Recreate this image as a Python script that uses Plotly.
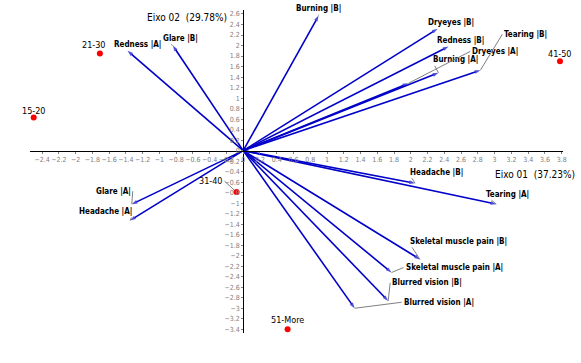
import plotly.graph_objects as go

# ---- data ----
var_labels = ["Burning |B|", "Dryeyes |B|", "Redness |B|", "Burning |A|", "Dryeyes |A|",
              "Tearing |B|", "Tearing |A|", "Headache |B|", "Skeletal muscle pain |B|",
              "Skeletal muscle pain |A|", "Blurred vision |B|", "Blurred vision |A|",
              "Glare |A|", "Headache |A|", "Redness |A|", "Glare |B|"]
var_f1 = [0.90, 2.32, 2.45, 2.33, 1.97, 2.83, 3.02, 2.05, 2.11, 1.77, 1.73, 1.33,
          -1.33, -1.35, -1.38, -0.84]
var_f2 = [2.57, 2.32, 1.98, 1.48, 1.28, 1.53, -1.02, -0.62, -2.07, -2.32, -2.86, -3.00,
          -1.02, -1.33, 1.90, 2.00]

age_labels = ["15-20", "21-30", "31-40", "41-50", "51-More"]
age_f1 = [-2.50, -1.71, -0.08, 3.78, 0.53]
age_f2 = [0.63, 1.85, -0.79, 1.70, -3.40]

# label placement (style): pixel offset of the text anchor, and horizontal anchor
var_off = [(0, -7, "center"), (-12, -6, "left"), (-14, -6, "left"), (-7, -13, "left"),
           (62, -32, "left"), (22, -36, "left"), (-12, -10, "left"), (-7, -11, "left"),
           (-12, -18, "left"), (12, -5, "left"), (2, -18, "left"), (47, -6, "left"),
           (1, -13, "right"), (4, -9, "right"), (-16, -6, "left"), (-12, -7, "left")]
age_off = [(0, -7, "center"), (8, -8, "right"), (-12, -11, "right"), (0, -7, "center"),
           (0, -9, "center")]

XR = [-2.544, 3.816]
YR = [-3.471, 2.676]

FAM = "Liberation Sans Narrow, Arial Narrow, DejaVu Sans Condensed, Liberation Sans, sans-serif"
LBL_FONT = dict(family=FAM, size=8, color="black")

fig = go.Figure()

# vectors
lx, ly, sym, sz = [], [], [], []
for a, b in zip(var_f1, var_f2):
    lx += [0, a, None]
    ly += [0, b, None]
    sym += ["circle", "arrow", "circle"]
    sz += [0, 6, 0]
fig.add_trace(go.Scatter(
    x=lx, y=ly, mode="lines+markers",
    line=dict(color="#0000c8", width=1.6),
    marker=dict(symbol=sym, size=sz, color="#0000c8", angleref="previous",
                line=dict(width=0)),
    hoverinfo="skip", showlegend=False, cliponaxis=False))

# age group points
fig.add_trace(go.Scatter(
    x=age_f1, y=age_f2, mode="markers",
    marker=dict(symbol="circle", size=6, color="#ff0000"),
    showlegend=False, cliponaxis=False))

annotations = []
for lab, a, b, (dx, dy, anc) in zip(var_labels, var_f1, var_f2, var_off):
    annotations.append(dict(x=a, y=b, xref="x", yref="y", text="<b>" + lab + "</b>",
                            showarrow=True, arrowhead=0, arrowwidth=1, arrowcolor="#808080",
                            ax=dx, ay=dy, xanchor=anc, font=LBL_FONT, standoff=0))
for lab, a, b, (dx, dy, anc) in zip(age_labels, age_f1, age_f2, age_off):
    annotations.append(dict(x=a, y=b, xref="x", yref="y", text=lab,
                            showarrow=True, arrowhead=0, arrowwidth=1, arrowcolor="#808080",
                            ax=dx, ay=dy, xanchor=anc, standoff=3,
                            font=dict(family=FAM, size=9, color="black")))

annotations.append(dict(x=-0.17, y=2.54, xref="x", yref="y", text="Eixo 02  (29.78%)",
                        showarrow=False, xanchor="right",
                        font=dict(family=FAM, size=10, color="black")))
annotations.append(dict(x=2.98, y=-0.46, xref="x", yref="y", text="Eixo 01  (37.23%)",
                        showarrow=False, xanchor="left",
                        font=dict(family=FAM, size=10, color="black")))

tickfont = dict(family=FAM, size=7, color="#808080")

fig.update_layout(
    width=581, height=363,
    margin=dict(l=30, r=18, t=10, b=30, autoexpand=False),
    paper_bgcolor="white", plot_bgcolor="white",
    annotations=annotations,
    xaxis=dict(range=XR, dtick=0.2, tick0=0, showgrid=False, zeroline=False,
               showline=True, linecolor="black", linewidth=1,
               ticks="outside", ticklen=2, tickcolor="#808080", tickangle=0,
               tickfont=tickfont, anchor="free", automargin=False,
               position=(0 - YR[0]) / (YR[1] - YR[0])),
    yaxis=dict(range=YR, dtick=0.2, tick0=0, showgrid=False, zeroline=False,
               showline=True, linecolor="black", linewidth=1,
               ticks="outside", ticklen=2, tickcolor="#808080",
               tickfont=tickfont, anchor="free", automargin=False,
               position=(0 - XR[0]) / (XR[1] - XR[0])),
)

fig.write_html("out.html", config={"displayModeBar": False},
               post_script="document.body.style.margin='0';document.body.style.overflow='hidden';")
